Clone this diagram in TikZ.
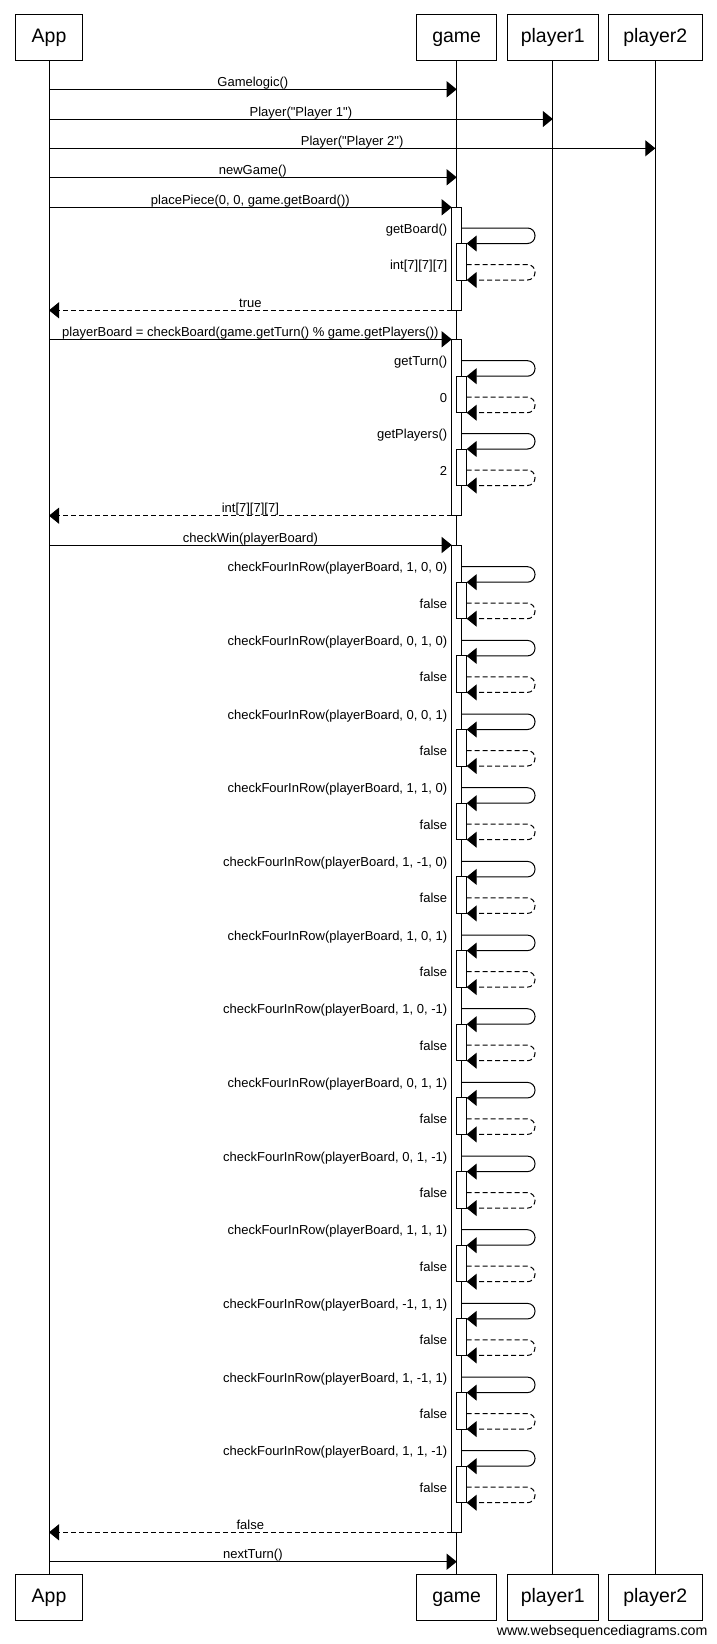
\documentclass[tikz,border=0pt]{standalone}
\usepackage{fontspec}
\setmainfont{Liberation Sans}[Ligatures=TeXOff]
\usepackage{tikz}
\usetikzlibrary{positioning}
\usetikzlibrary{arrows.meta}

\begin{document}
\begin{tikzpicture}[x=1pt, y=-1pt, line width=1pt,
  actor/.style={draw, inner sep=0pt, outer sep=0pt, minimum height=45.5pt, text height=14pt, text depth=4pt, font=\fontsize{19.5}{23}\selectfont},
  act/.style={draw, fill=white, inner sep=0pt, outer sep=0pt, minimum width=10pt},
  call/.style={-{Triangle[length=10pt,width=16pt]}},
  reply/.style={call, dash pattern=on 5pt off 3pt},
  msg/.style={font=\fontsize{13}{15.6}\selectfont, inner sep=0pt, anchor=base, yshift=2.8pt},
  selflbl/.style={font=\fontsize{13}{15.6}\selectfont, inner sep=0pt, anchor=base east, xshift=-4pt, yshift=-5pt}]
  \fill[white] (0,0) rectangle (716,1644);
  \useasboundingbox (0,0) rectangle (716,1644);

  % participants, top and bottom
  \node[actor, minimum width=66.6pt] (appTop) at (49,37.7) {App};
  \node[actor, minimum width=80pt] (gameTop) at (456.7,37.7) {game};
  \node[actor, minimum width=91pt, right=10.6pt of gameTop] (p1Top) {player1};
  \node[actor, minimum width=94pt, right=10pt of p1Top] (p2Top) {player2};
  \node[actor, minimum width=66.6pt] (appBot) at (49,1597.7) {App};
  \node[actor, minimum width=80pt] (gameBot) at (456.7,1597.7) {game};
  \node[actor, minimum width=91pt, right=10.6pt of gameBot] (p1Bot) {player1};
  \node[actor, minimum width=94pt, right=10pt of p1Bot] (p2Bot) {player2};
  \node[font=\fontsize{14.2}{17}\selectfont, inner sep=0pt, anchor=base east] (credit) at (708,1635) {www.websequencediagrams.com};

  % lifelines
  \foreach \who in {app,game,p1,p2}
    \draw (\who Top) -- (\who Bot);

  % constructor calls
  \draw[call] (appTop |- 0,89.3) -- node[msg] {Gamelogic()} (gameTop |- 0,89.3);
  \draw[call] (appTop |- 0,119) -- node[msg] {Player("Player 1")} (p1Top |- 0,119);
  \draw[call] (appTop |- 0,148.3) -- node[msg] {Player("Player 2")} (p2Top |- 0,148.3);
  \draw[call] (appTop |- 0,177.3) -- node[msg] {newGame()} (gameTop |- 0,177.3);

  % activations on game
  \node[act, anchor=north, minimum height=103pt] (actA) at (gameTop |- 0,207.3) {};
  \node[act, anchor=north, minimum height=176.4pt] (actB) at (gameTop |- 0,339.3) {};
  \node[act, anchor=north, minimum height=987.3pt] (actC) at (gameTop |- 0,545) {};

  \draw[call] (appTop |- actA.north) -- node[msg] {placePiece(0, 0, game.getBoard())} (actA.north west);
  \draw[reply] (actA.south west) -- node[msg] {true} (appTop |- actA.south);
  \draw[call] (appTop |- actB.north) -- node[msg] {playerBoard = checkBoard(game.getTurn() \% game.getPlayers())} (actB.north west);
  \draw[reply] (actB.south west) -- node[msg] {int[7][7][7]} (appTop |- actB.south);
  \draw[call] (appTop |- actC.north) -- node[msg] {checkWin(playerBoard)} (actC.north west);
  \draw[reply] (actC.south west) -- node[msg] {false} (appTop |- actC.south);
  \draw[call] (appTop |- 0,1561.7) -- node[msg] {nextTurn()} (gameBot |- 0,1561.7);

  % self calls with their replies
  \foreach \yy/\outer/\callname/\reply [count=\n] in {
      228/actA/{getBoard()}/{int[7][7][7]},
      360.7/actB/{getTurn()}/0,
      433.5/actB/{getPlayers()}/2,
      566.7/actC/{checkFourInRow(playerBoard, 1, 0, 0)}/false,
      640.4/actC/{checkFourInRow(playerBoard, 0, 1, 0)}/false,
      714.0/actC/{checkFourInRow(playerBoard, 0, 0, 1)}/false,
      787.7/actC/{checkFourInRow(playerBoard, 1, 1, 0)}/false,
      861.4/actC/{checkFourInRow(playerBoard, 1, -1, 0)}/false,
      935.1/actC/{checkFourInRow(playerBoard, 1, 0, 1)}/false,
      1008.7/actC/{checkFourInRow(playerBoard, 1, 0, -1)}/false,
      1082.4/actC/{checkFourInRow(playerBoard, 0, 1, 1)}/false,
      1156.1/actC/{checkFourInRow(playerBoard, 0, 1, -1)}/false,
      1229.7/actC/{checkFourInRow(playerBoard, 1, 1, 1)}/false,
      1303.4/actC/{checkFourInRow(playerBoard, -1, 1, 1)}/false,
      1377.1/actC/{checkFourInRow(playerBoard, 1, -1, 1)}/false,
      1450.7/actC/{checkFourInRow(playerBoard, 1, 1, -1)}/false} {
    \pgfmathsetmacro\yb{\yy+15.5}
    \pgfmathsetmacro\yc{\yy+36.5}
    \node[act, anchor=north west, minimum height=36.5pt] (sub\n) at (\outer.center |- 0,\yb) {};
    \draw[call, rounded corners=7.5pt] (\outer.east |- 0,\yy) -- ++(73.3,0) -- ++(0,15.5) -- (sub\n.north east);
    \draw[reply, rounded corners=7.5pt] (sub\n.east |- 0,\yc) -- ++(68.3,0) -- ++(0,15.5) -- (sub\n.south east);
    \node[selflbl] (call\n) at (\outer.west |- 0,\yy) {\callname};
    \node[selflbl] (ret\n) at (\outer.west |- 0,\yc) {\reply};
  }
\end{tikzpicture}
\end{document}
